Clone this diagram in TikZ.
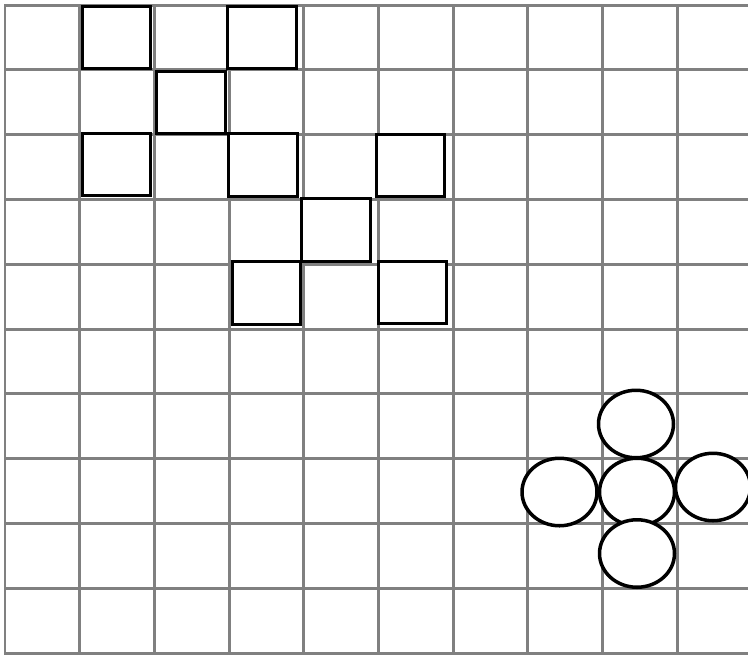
\documentclass[tikz,border=0pt]{standalone}
\usetikzlibrary{shapes.geometric}

\begin{document}
\begin{tikzpicture}[x=0.02cm, y=-0.02cm,
    gridline/.style={draw=gray, line width=1.7pt, line cap=rect},
    tile/.style={draw=black, fill=white, line width=1.9pt, inner sep=0pt,
      minimum width=1.37cm, minimum height=1.25cm},
    disc/.style={ellipse, draw=black, fill=white, line width=2pt, inner sep=0pt,
      minimum width=1.5cm, minimum height=1.35cm}]
    \useasboundingbox (0,0) rectangle (748,654);
    \clip (0,0) rectangle (748,654);
    % grid
    \foreach \i in {0,...,9} \draw[gridline] ({5+74.7*\i},5) -- ({5+74.7*\i},653);
    \foreach \j in {0,...,10} \draw[gridline] (5,{5+64.8*\j}) -- (760,{5+64.8*\j});
    % squares
    \node[tile] (sqA) at (116.5,37.5) {};
    \node[tile] (sqB) at (262,37.5) {};
    \node[tile] (sqC) at (191,102.5) {};
    \node[tile] (sqD) at (116.5,164.5) {};
    \node[tile] (sqE) at (263,165) {};
    \node[tile] (sqF) at (410.5,165.5) {};
    \node[tile] (sqG) at (336,230) {};
    \node[tile] (sqH) at (266.5,293) {};
    \node[tile] (sqI) at (412.5,292.5) {};
    % circles
    \node[disc] (mid) at (637,492) {};
    \node[disc] (top) at (636,424) {};
    \node[disc] (lft) at (559.5,492) {};
    \node[disc] (rgt) at (713,487) {};
    \node[disc] (bot) at (637,553.5) {};
\end{tikzpicture}
\end{document}
